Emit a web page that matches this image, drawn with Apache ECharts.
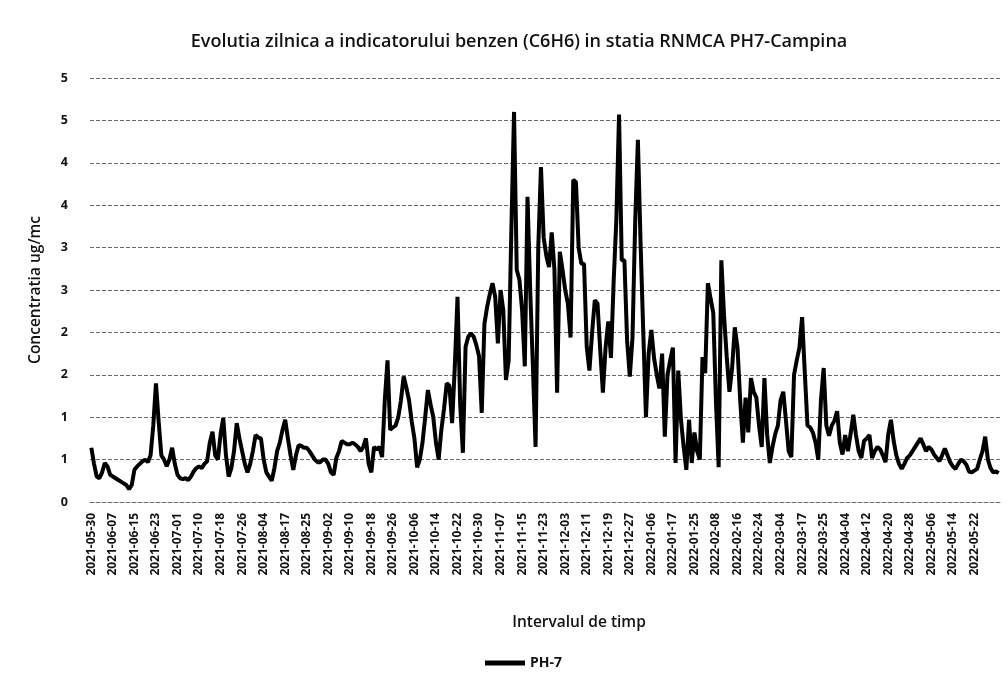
<!DOCTYPE html>
<html>
<head>
<meta charset="utf-8">
<title>Evolutia zilnica benzen PH7-Campina</title>
<script src="https://cdn.jsdelivr.net/npm/echarts@6/dist/echarts.min.js"></script>
<style>
  html, body { margin: 0; padding: 0; background: #fff; }
  #chart { width: 1008px; height: 679px; }
</style>
</head>
<body>
<div id="chart"></div>
<script>
/*Benzen PH-7*/

// ______Tick labels on the time axis (one every 8 measuring days)
var tickDates = [
	'2021-05-30', '2021-06-07', '2021-06-15', '2021-06-23', '2021-07-01', '2021-07-10',
	'2021-07-18', '2021-07-26', '2021-08-04', '2021-08-17', '2021-08-25', '2021-09-02',
	'2021-09-10', '2021-09-18', '2021-09-26', '2021-10-06', '2021-10-14', '2021-10-22',
	'2021-10-30', '2021-11-07', '2021-11-15', '2021-11-23', '2021-12-03', '2021-12-11',
	'2021-12-19', '2021-12-27', '2022-01-06', '2022-01-17', '2022-01-25', '2022-02-08',
	'2022-02-16', '2022-02-24', '2022-03-04', '2022-03-17', '2022-03-25', '2022-04-04',
	'2022-04-12', '2022-04-20', '2022-04-28', '2022-05-06', '2022-05-14', '2022-05-22'
];

// ______Daily values PH-7 (ug/mc), 8 per row
var ph7 = [
	0.64, 0.45, 0.30, 0.28, 0.35, 0.46, 0.42, 0.32,
	0.30, 0.28, 0.26, 0.24, 0.22, 0.20, 0.15, 0.20,
	0.38, 0.42, 0.45, 0.48, 0.50, 0.47, 0.55, 0.90,
	1.40, 0.95, 0.55, 0.50, 0.42, 0.50, 0.64, 0.45,
	0.32, 0.28, 0.27, 0.28, 0.26, 0.30, 0.36, 0.40,
	0.42, 0.40, 0.45, 0.48, 0.70, 0.83, 0.55, 0.50,
	0.80, 0.99, 0.55, 0.30, 0.40, 0.60, 0.93, 0.75,
	0.60, 0.45, 0.35, 0.45, 0.60, 0.79, 0.76, 0.75,
	0.50, 0.35, 0.30, 0.25, 0.40, 0.60, 0.70, 0.85,
	0.97, 0.75, 0.55, 0.38, 0.55, 0.67, 0.66, 0.64,
	0.64, 0.60, 0.55, 0.50, 0.47, 0.47, 0.50, 0.50,
	0.45, 0.35, 0.32, 0.52, 0.60, 0.72, 0.70, 0.68,
	0.68, 0.70, 0.68, 0.65, 0.60, 0.65, 0.75, 0.45,
	0.35, 0.65, 0.62, 0.65, 0.53, 1.20, 1.67, 0.85,
	0.88, 0.90, 1.00, 1.20, 1.48, 1.35, 1.20, 0.95,
	0.75, 0.41, 0.50, 0.70, 1.00, 1.32, 1.15, 1.00,
	0.70, 0.50, 0.85, 1.10, 1.40, 1.37, 0.93, 1.60,
	2.42, 1.15, 0.58, 1.83, 1.95, 1.99, 1.95, 1.85,
	1.72, 1.05, 2.10, 2.30, 2.45, 2.58, 2.42, 1.87,
	2.50, 2.26, 1.44, 1.67, 3.20, 4.60, 2.74, 2.62,
	2.26, 1.60, 3.60, 2.50, 1.60, 0.65, 3.00, 3.95,
	3.12, 2.90, 2.77, 3.18, 2.74, 1.29, 2.95, 2.74,
	2.50, 2.34, 1.94, 3.80, 3.77, 3.00, 2.81, 2.81,
	1.83, 1.55, 2.00, 2.38, 2.34, 1.80, 1.29, 1.82,
	2.13, 1.70, 2.60, 3.33, 4.57, 2.85, 2.85, 1.90,
	1.48, 1.94, 3.30, 4.27, 3.05, 2.00, 1.00, 1.75,
	2.03, 1.70, 1.50, 1.34, 1.75, 0.77, 1.50, 1.67,
	1.82, 0.46, 1.55, 0.97, 0.65, 0.38, 0.97, 0.46,
	0.82, 0.60, 0.50, 1.71, 1.52, 2.58, 2.40, 2.23,
	1.18, 0.41, 2.85, 2.20, 1.71, 1.30, 1.58, 2.06,
	1.82, 1.20, 0.70, 1.23, 0.82, 1.46, 1.30, 1.23,
	0.90, 0.65, 1.46, 0.80, 0.46, 0.65, 0.80, 0.90,
	1.20, 1.30, 0.96, 0.60, 0.53, 1.50, 1.67, 1.82,
	2.18, 1.52, 0.90, 0.88, 0.82, 0.70, 0.50, 1.20,
	1.58, 0.90, 0.78, 0.90, 0.96, 1.07, 0.70, 0.56,
	0.79, 0.60, 0.80, 1.03, 0.79, 0.60, 0.52, 0.72,
	0.75, 0.79, 0.52, 0.60, 0.65, 0.62, 0.55, 0.47,
	0.80, 0.97, 0.72, 0.55, 0.45, 0.39, 0.45, 0.52,
	0.55, 0.60, 0.65, 0.70, 0.75, 0.68, 0.60, 0.65,
	0.62, 0.56, 0.52, 0.48, 0.55, 0.63, 0.55, 0.47,
	0.42, 0.39, 0.45, 0.50, 0.48, 0.44, 0.36, 0.35,
	0.37, 0.39, 0.50, 0.60, 0.77, 0.50, 0.40, 0.35, 0.36, 0.34
];

// ______Category list: each tick date followed by the next days until the next tick
function addDays(s, n) {
	var d = new Date(s + 'T00:00:00Z');
	d.setUTCDate(d.getUTCDate() + n);
	return d.toISOString().slice(0, 10);
}
var days = [];
tickDates.forEach(function (t, k) {
	var cnt = k < tickDates.length - 1 ? 8 : ph7.length - days.length;
	for (var j = 0; j < cnt; j++) days.push(addDays(t, j));
});

var gridLine = { color: '#6a6a6a', width: 1, type: [4, 2] };

var chart = echarts.init(document.getElementById('chart'));
chart.setOption({
	backgroundColor: '#fff',
	animation: false,
	textStyle: { fontFamily: 'Open Sans' },
	title: {
		text: 'Evolutia zilnica a indicatorului benzen (C6H6) in statia RNMCA PH7-Campina',
		left: 514, top: 28, textAlign: 'center',
		textStyle: { fontSize: 18, fontWeight: 600, color: '#111' }
	},
	legend: {
		data: ['PH-7'],
		left: 480, top: 651,
		icon: 'rect', itemWidth: 40, itemHeight: 5,
		textStyle: { fontSize: 14, fontWeight: 'bold', color: '#111' }
	},
	grid: { left: 90, right: 8, top: 78, bottom: 177 },
	xAxis: {
		type: 'category',
		data: days,
		boundaryGap: true,
		name: 'Intervalul de timp',
		nameLocation: 'middle',
		nameGap: 113,
		nameTextStyle: { fontSize: 15.5, fontWeight: 600, color: '#111', padding: [0, 0, 0, 68] },
		axisLine: { lineStyle: gridLine },
		axisTick: { show: false },
		axisLabel: {
			interval: function (i) { return i % 8 === 0 && i < tickDates.length * 8; },
			rotate: 90, margin: 11,
			fontSize: 12, fontWeight: 'bold', color: '#111'
		}
	},
	yAxis: {
		type: 'value',
		min: 0, max: 5, interval: 0.5,
		name: 'Concentratia ug/mc',
		nameLocation: 'middle',
		nameGap: 46,
		nameTextStyle: { fontSize: 15.5, fontWeight: 600, color: '#111' },
		axisLine: { show: false },
		axisTick: { show: false },
		splitLine: { lineStyle: gridLine },
		axisLabel: {
			margin: 22, fontSize: 12.5, fontWeight: 'bold', color: '#111',
			formatter: function (v) { return Math.round(v); }
		}
	},
	series: [{
		name: 'PH-7',
		type: 'line',
		data: ph7,
		showSymbol: false,
		lineStyle: { color: '#000', width: 4 },
		itemStyle: { color: '#000' }
	}]
});

/*Benzen PH-7*/
</script>
</body>
</html>
